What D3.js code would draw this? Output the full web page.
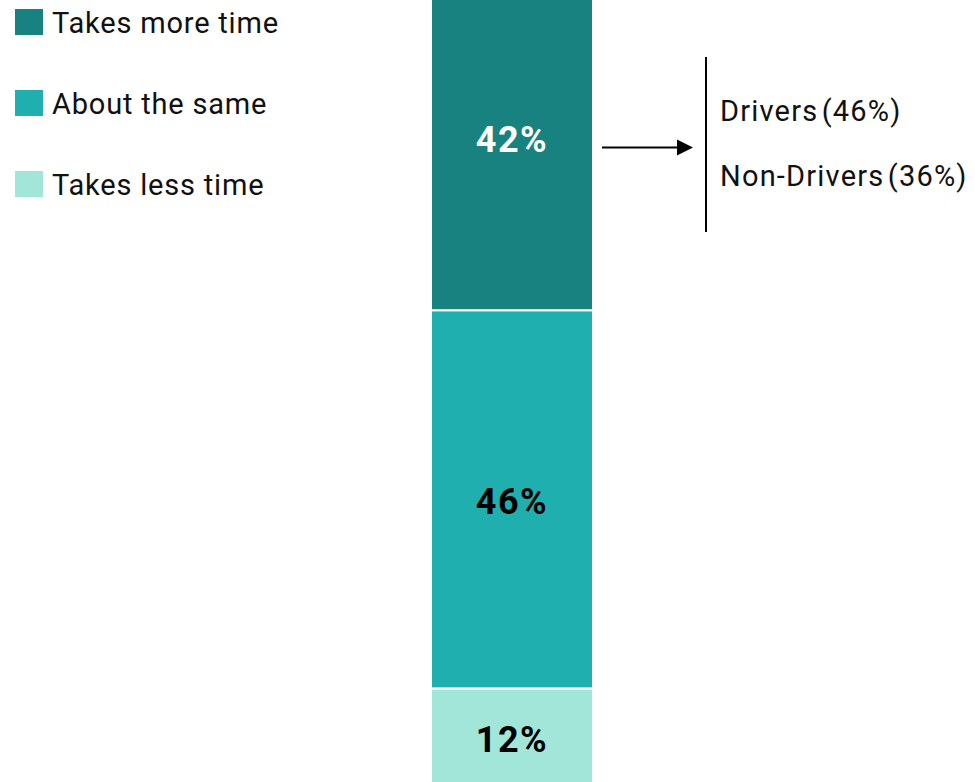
<!DOCTYPE html>
<html>
<head>
<meta charset="utf-8">
<script src="https://cdn.jsdelivr.net/npm/d3@7"></script>
<style>
  html, body { margin: 0; padding: 0; background: #fff; }
  svg { display: block; }
</style>
</head>
<body>
<svg id="chart" width="975" height="782"></svg>
<script>
const categories = ["Takes more time", "About the same", "Takes less time"];
const values = [42, 46, 12];
const colors = ["#17827F", "#1FAFAF", "#A2E6D9"];
const labelColors = ["#ffffff", "#000000", "#000000"];
const barGroup = ["All respondents"];
const annotationLines = ["Drivers (46%)", "Non-Drivers (36%)"];

const svg = d3.select("#chart");
const font = "Roboto, 'Noto Sans', sans-serif";

const x = d3.scaleBand().domain(barGroup).range([431, 593]).padding(0);
const y = d3.scaleLinear().domain([0, 100]).range([787, -35]);

// stack from bottom: reverse order
const order = categories.map((c, i) => ({ c, v: values[i], i }));
let acc = 0;
const stacked = order.slice().reverse().map(d => {
  const s = { ...d, y0: acc, y1: acc + d.v };
  acc += d.v;
  return s;
});

const g = svg.append("g");
g.selectAll("rect.seg")
  .data(stacked)
  .join("rect")
  .attr("class", "seg")
  .attr("x", x(barGroup[0]))
  .attr("width", x.bandwidth())
  .attr("y", d => y(d.y1))
  .attr("height", d => y(d.y0) - y(d.y1))
  .attr("fill", d => colors[d.i])
  .attr("stroke", "#fff")
  .attr("stroke-width", 2);

g.selectAll("text.lbl")
  .data(stacked)
  .join("text")
  .attr("class", "lbl")
  .attr("x", x(barGroup[0]) + x.bandwidth() / 2)
  .attr("y", d => (y(d.y0) + y(d.y1)) / 2 + 2.5)
  .attr("text-anchor", "middle")
  .attr("dominant-baseline", "central")
  .attr("font-family", font)
  .attr("font-weight", 700)
  .attr("font-size", 36)
  .attr("letter-spacing", 1.5)
  .attr("fill", d => labelColors[d.i])
  .text(d => d.v + "%");

// legend
const legend = svg.append("g");
categories.forEach((c, i) => {
  const ly = 9 + i * 81;
  legend.append("rect")
    .attr("x", 15).attr("y", ly).attr("width", 28).attr("height", 26)
    .attr("fill", colors[i]);
  legend.append("text")
    .attr("x", 52).attr("y", ly + 24)
    .attr("font-family", font)
    .attr("font-size", 29)
    .attr("letter-spacing", 0.8)
    .attr("fill", "#111")
    .text(c);
});

// annotation
const topSeg = stacked.find(d => d.i === 0);
const midY = (y(topSeg.y0) + y(topSeg.y1)) / 2 + 10;

const ann = svg.append("g");
ann.append("line")
  .attr("x1", 602).attr("x2", 680)
  .attr("y1", midY).attr("y2", midY)
  .attr("stroke", "#000").attr("stroke-width", 2);
ann.append("path")
  .attr("d", `M677,${midY - 8} L693,${midY} L677,${midY + 8} Z`)
  .attr("fill", "#000");
ann.append("line")
  .attr("x1", 706).attr("x2", 706)
  .attr("y1", 57).attr("y2", 232)
  .attr("stroke", "#000").attr("stroke-width", 2);
annotationLines.forEach((t, i) => {
  ann.append("text")
    .attr("x", 720).attr("y", 121 + i * 65)
    .attr("font-family", font)
    .attr("font-size", 29)
    .attr("letter-spacing", 1.2)
    .attr("word-spacing", -5)
    .attr("fill", "#111")
    .text(t);
});
</script>
</body>
</html>
